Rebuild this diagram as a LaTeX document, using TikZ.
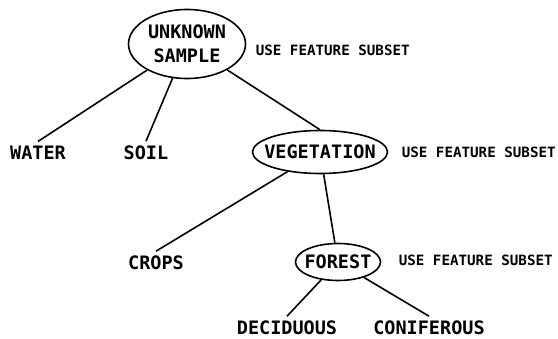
\documentclass[tikz,border=0pt]{standalone}
\usepackage{fontspec}
\setmonofont{DejaVu Sans Mono}
\usepackage{tikz}
\usetikzlibrary{shapes.geometric}
\tikzstyle{cluster} = [draw=black, ellipse, line width=1.6pt, inner sep=0pt,
align=center, font=\ttfamily\bfseries\fontsize{18.5}{24}\selectfont]
\tikzstyle{leaf} = [inner sep=4pt, font=\ttfamily\bfseries\fontsize{18.5}{24}\selectfont]
\tikzstyle{subset} = [anchor=west, inner sep=0pt, font=\ttfamily\bfseries\fontsize{14.2}{17}\selectfont]

\begin{document}
\begin{tikzpicture}[x=1pt, y=-1pt, line width=1.6pt]
        \useasboundingbox (0,0) rectangle (558,339);
        \node [cluster, minimum width=117pt, minimum height=69pt] (sample) at (187,44) {UNKNOWN\\SAMPLE};
        \node [subset] (usesample) at (255,50) {USE FEATURE SUBSET};
        \node [leaf] (water) at (38,153) {WATER};
        \node [leaf] (soil) at (146,153) {SOIL};
        \node [cluster, minimum width=135pt, minimum height=43pt, inner xsep=-8pt] (veg) at (320,152) {VEGETATION};
        \node [subset] (useveg) at (401,152) {USE FEATURE SUBSET};
        \node [leaf] (crops) at (156,263) {CROPS};
        \node [cluster, minimum width=85pt, minimum height=37pt, inner xsep=-3.4pt] (forest) at (338,262) {FOREST};
        \node [subset] (useforest) at (398,260) {USE FEATURE SUBSET};
        \node [leaf] (deciduous) at (287,328) {DECIDUOUS};
        \node [leaf] (coniferous) at (429,328) {CONIFEROUS};
        \draw (sample) -- (water.north);
        \draw (sample) -- (soil.north);
        \draw (sample) -- (veg.north);
        \draw (veg) -- (crops.north);
        \draw (veg) -- (forest);
        \draw (forest) -- (deciduous.north);
        \draw (forest) -- (coniferous.north);
    \end{tikzpicture}
\end{document}
